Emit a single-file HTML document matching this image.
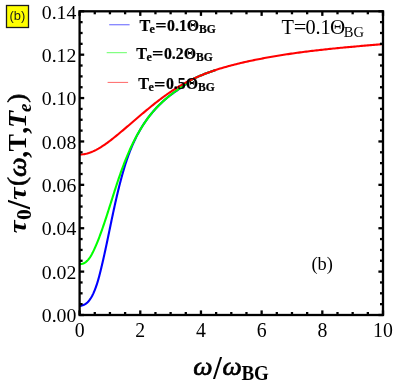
<!DOCTYPE html>
<html><head><meta charset="utf-8"><title>fig</title>
<style>
html,body{margin:0;padding:0;background:#fff;}
body{width:393px;height:383px;overflow:hidden;position:relative;font-family:"Liberation Serif",serif;}
svg{position:absolute;left:0;top:0;display:block;will-change:transform;}
svg text{font-family:"Liberation Serif",serif;fill:#000;}
</style></head><body>
<svg width="393" height="383" viewBox="0 0 393 383">
<rect x="0" y="0" width="393" height="383" fill="#fff"/>
<g font-size="19.8">
<text transform="translate(79.60,336.8) scale(1,1.03)" text-anchor="middle">0</text>
<text transform="translate(140.28,336.8) scale(1,1.03)" text-anchor="middle">2</text>
<text transform="translate(200.96,336.8) scale(1,1.03)" text-anchor="middle">4</text>
<text transform="translate(261.64,336.8) scale(1,1.03)" text-anchor="middle">6</text>
<text transform="translate(322.32,336.8) scale(1,1.03)" text-anchor="middle">8</text>
<text transform="translate(383.00,336.8) scale(1,1.03)" text-anchor="middle">10</text>
<text transform="translate(76.4,322.20) scale(1,1.0)" text-anchor="end">0.00</text>
<text transform="translate(76.4,278.81) scale(1,1.0)" text-anchor="end">0.02</text>
<text transform="translate(76.4,235.43) scale(1,1.0)" text-anchor="end">0.04</text>
<text transform="translate(76.4,192.04) scale(1,1.0)" text-anchor="end">0.06</text>
<text transform="translate(76.4,148.66) scale(1,1.0)" text-anchor="end">0.08</text>
<text transform="translate(76.4,105.27) scale(1,1.0)" text-anchor="end">0.10</text>
<text transform="translate(76.4,61.89) scale(1,1.0)" text-anchor="end">0.12</text>
<text transform="translate(76.4,18.50) scale(1,1.0)" text-anchor="end">0.14</text>
</g>
<!-- curves -->
<g fill="none" stroke-width="2.1" stroke-linecap="butt" stroke-linejoin="round">
<path d="M79.94,305.84 L81.34,305.67 L82.70,305.32 L84.00,304.80 L85.20,304.14 L86.33,303.36 L87.38,302.47 L88.36,301.47 L89.27,300.39 L90.12,299.23 L90.91,298.01 L91.65,296.74 L92.35,295.43 L93.01,294.09 L93.63,292.74 L94.21,291.38 L94.77,290.03 L95.30,288.67 L95.81,287.32 L96.29,285.96 L96.75,284.60 L97.19,283.24 L97.61,281.88 L98.02,280.52 L98.41,279.15 L98.79,277.79 L99.15,276.42 L99.51,275.05 L99.86,273.68 L100.20,272.31 L100.54,270.94 L100.88,269.57 L101.21,268.19 L101.54,266.82 L101.87,265.44 L102.19,264.06 L102.51,262.68 L102.83,261.29 L103.15,259.91 L103.46,258.52 L103.77,257.14 L104.08,255.75 L104.39,254.36 L104.69,252.97 L105.00,251.58 L105.30,250.19 L105.60,248.80 L105.90,247.40 L106.20,246.01 L106.49,244.61 L106.79,243.22 L107.08,241.82 L107.37,240.42 L107.67,239.02 L107.96,237.62 L108.25,236.22 L108.54,234.82 L108.83,233.42 L109.12,232.02 L109.41,230.62 L109.70,229.22 L109.99,227.82 L110.28,226.42 L110.57,225.01 L110.87,223.61 L111.16,222.21 L111.45,220.81 L111.74,219.40 L112.04,218.00 L112.33,216.60 L112.63,215.20 L112.93,213.79 L113.23,212.39 L113.53,210.99 L113.83,209.59 L114.14,208.19 L114.44,206.78 L114.75,205.38 L115.06,203.98 L115.37,202.58 L115.69,201.18 L116.01,199.79 L116.33,198.39 L116.65,196.99 L116.97,195.59 L117.30,194.20 L117.63,192.80 L117.97,191.41 L118.30,190.01 L118.65,188.62 L118.99,187.23 L119.34,185.84 L119.69,184.45 L120.04,183.06 L120.40,181.68 L120.77,180.29 L121.13,178.90 L121.51,177.52 L121.88,176.14 L122.26,174.76 L122.65,173.38 L123.04,172.00 L123.44,170.63 L123.84,169.26 L124.25,167.89 L124.67,166.52 L125.09,165.16 L125.52,163.80 L125.96,162.44 L126.41,161.08 L126.86,159.73 L127.32,158.38 L127.79,157.04 L128.27,155.70 L128.76,154.36 L129.26,153.03 L129.76,151.70 L130.28,150.37 L130.80,149.05 L131.34,147.74 L131.89,146.43 L132.45,145.12 L133.01,143.82 L133.59,142.53 L134.19,141.24 L134.79,139.96 L135.41,138.68 L136.03,137.41 L136.67,136.14 L137.33,134.88 L138.00,133.63 L138.68,132.38 L139.37,131.14 L140.08,129.91 L140.80,128.68 L141.54,127.46 L142.29,126.25 L143.06,125.04 L143.84,123.85 L144.64,122.66 L145.45,121.48 L146.27,120.31 L147.11,119.14 L147.96,117.99 L148.83,116.85 L149.71,115.71 L150.61,114.59 L151.52,113.47 L152.44,112.37 L153.37,111.28 L154.32,110.19 L155.28,109.12 L156.25,108.07 L157.23,107.02 L158.23,105.98 L159.24,104.96 L160.26,103.95 L161.29,102.96 L162.34,101.98 L163.39,101.01 L164.46,100.05 L165.54,99.12 L166.63,98.19 L167.73,97.28 L168.84,96.38 L169.96,95.50 L171.09,94.64 L172.23,93.79 L173.38,92.96 L174.53,92.13 L175.70,91.32 L176.87,90.52 L178.05,89.72 L179.23,88.93 L180.42,88.15 L181.61,87.36 L182.80,86.58 L184.00,85.49 L185.19,84.43 L186.39,83.40 L187.59,82.43 L188.79,81.51 L189.99,80.65 L191.20,79.84 L193.22,78.87 L194.59,78.23 L195.95,77.61 L197.33,77.00 L198.71,76.40 L200.10,75.81 L201.49,75.23 L202.88,74.66 L204.29,74.10 L205.69,73.56 L207.10,73.02 L208.52,72.49 L209.94,71.98 L211.37,71.47 L212.79,70.97 L214.23,70.49 L215.67,70.01" stroke="#0000ff"/>
<path d="M79.90,264.14 L81.27,264.04 L82.59,263.74 L83.83,263.26 L85.00,262.60 L86.10,261.80 L87.12,260.87 L88.08,259.85 L88.97,258.76 L89.79,257.62 L90.56,256.46 L91.28,255.27 L91.95,254.07 L92.59,252.86 L93.19,251.63 L93.78,250.39 L94.36,249.15 L94.92,247.91 L95.47,246.66 L96.01,245.40 L96.55,244.14 L97.07,242.88 L97.58,241.61 L98.09,240.33 L98.59,239.06 L99.08,237.78 L99.56,236.50 L100.04,235.21 L100.51,233.93 L100.98,232.64 L101.44,231.35 L101.90,230.06 L102.36,228.77 L102.81,227.47 L103.26,226.18 L103.70,224.88 L104.14,223.58 L104.58,222.28 L105.01,220.98 L105.45,219.68 L105.88,218.37 L106.30,217.07 L106.73,215.77 L107.15,214.46 L107.57,213.15 L107.99,211.85 L108.41,210.54 L108.83,209.23 L109.24,207.93 L109.66,206.62 L110.07,205.31 L110.49,204.00 L110.90,202.69 L111.31,201.38 L111.72,200.07 L112.14,198.76 L112.55,197.46 L112.97,196.15 L113.38,194.84 L113.80,193.53 L114.21,192.22 L114.63,190.92 L115.05,189.61 L115.47,188.31 L115.90,187.00 L116.32,185.70 L116.75,184.39 L117.18,183.09 L117.61,181.79 L118.05,180.49 L118.49,179.19 L118.93,177.89 L119.38,176.60 L119.82,175.30 L120.28,174.01 L120.73,172.72 L121.19,171.43 L121.66,170.14 L122.13,168.85 L122.60,167.56 L123.08,166.28 L123.56,165.00 L124.05,163.72 L124.54,162.44 L125.04,161.17 L125.55,159.90 L126.06,158.62 L126.58,157.36 L127.10,156.09 L127.63,154.83 L128.17,153.57 L128.71,152.31 L129.26,151.05 L129.82,149.80 L130.38,148.55 L130.96,147.30 L131.54,146.06 L132.12,144.82 L132.72,143.58 L133.32,142.35 L133.94,141.12 L134.56,139.90 L135.19,138.68 L135.83,137.46 L136.48,136.25 L137.13,135.05 L137.80,133.85 L138.47,132.65 L139.16,131.46 L139.85,130.28 L140.56,129.11 L141.27,127.94 L142.00,126.77 L142.73,125.62 L143.48,124.47 L144.24,123.33 L145.00,122.20 L145.78,121.07 L146.57,119.96 L147.37,118.85 L148.19,117.75 L149.01,116.66 L149.85,115.58 L150.69,114.51 L151.55,113.45 L152.42,112.40 L153.31,111.35 L154.21,110.32 L155.11,109.30 L156.04,108.29 L156.97,107.29 L157.92,106.31 L158.88,105.33 L159.85,104.36 L160.84,103.41 L161.84,102.46 L162.84,101.53 L163.86,100.61 L164.89,99.70 L165.93,98.80 L166.98,97.91 L168.04,97.02 L169.11,96.15 L170.18,95.29 L171.27,94.44 L172.36,93.60 L173.46,92.77 L174.56,91.95 L175.68,91.14 L176.80,90.33 L177.92,89.54 L179.05,88.76 L180.19,87.98 L181.33,87.22 L182.48,86.46 L183.63,85.71 L184.79,84.72 L185.95,83.76 L187.11,82.83 L188.28,81.95 L189.46,81.11 L190.64,80.30 L191.82,79.54 L193.22,78.87 L194.59,78.23 L195.95,77.61 L197.33,77.00 L198.71,76.40 L200.10,75.81 L201.49,75.23 L202.88,74.66 L204.29,74.10 L205.69,73.56 L207.10,73.02 L208.52,72.49 L209.94,71.98 L211.37,71.47 L212.79,70.97 L214.23,70.49 L215.67,70.01" stroke="#00ff00"/>
<path d="M79.92,154.51 L81.42,154.45 L82.91,154.31 L84.39,154.10 L85.86,153.81 L87.32,153.45 L88.76,153.03 L90.18,152.55 L91.60,152.01 L92.99,151.41 L94.38,150.77 L95.74,150.09 L97.09,149.37 L98.43,148.62 L99.74,147.84 L101.04,147.04 L102.33,146.22 L103.59,145.38 L104.84,144.53 L106.08,143.67 L107.30,142.79 L108.51,141.90 L109.71,141.00 L110.91,140.09 L112.09,139.17 L113.27,138.24 L114.44,137.30 L115.60,136.36 L116.76,135.41 L117.93,134.45 L119.08,133.49 L120.24,132.53 L121.40,131.56 L122.56,130.59 L123.71,129.61 L124.87,128.64 L126.02,127.65 L127.17,126.67 L128.33,125.69 L129.48,124.70 L130.64,123.71 L131.79,122.72 L132.94,121.73 L134.10,120.74 L135.26,119.75 L136.41,118.76 L137.57,117.77 L138.73,116.78 L139.89,115.79 L141.05,114.81 L142.22,113.82 L143.38,112.84 L144.55,111.86 L145.72,110.88 L146.89,109.91 L148.07,108.94 L149.25,107.97 L150.43,107.01 L151.61,106.05 L152.80,105.09 L153.98,104.14 L155.18,103.20 L156.37,102.26 L157.57,101.33 L158.78,100.40 L159.98,99.48 L161.19,98.57 L162.41,97.66 L163.63,96.76 L164.85,95.87 L166.08,94.99 L167.32,94.11 L168.55,93.25 L169.80,92.39 L171.05,91.54 L172.30,90.71 L173.56,89.88 L174.83,89.06 L176.10,88.26 L177.38,87.46 L178.66,86.68 L179.95,85.90 L181.25,85.14 L182.55,84.40 L183.86,83.66 L185.18,82.94 L186.50,82.23 L187.83,81.53 L189.17,80.85 L190.52,80.17 L191.87,79.51 L193.22,78.87 L194.59,78.23 L195.95,77.61 L197.33,77.00 L198.71,76.40 L200.10,75.81 L201.49,75.23 L202.88,74.66 L204.29,74.10 L205.69,73.56 L207.10,73.02 L208.52,72.49 L209.94,71.98 L211.37,71.47 L212.79,70.97 L214.23,70.49 L215.67,70.01 L217.11,69.54 L218.55,69.08 L220.00,68.62 L221.45,68.18 L222.91,67.74 L224.36,67.31 L225.82,66.89 L227.29,66.48 L228.75,66.08 L230.22,65.68 L231.69,65.29 L233.17,64.90 L234.64,64.53 L236.12,64.15 L237.60,63.79 L239.08,63.43 L240.56,63.08 L242.05,62.73 L243.53,62.39 L245.02,62.05 L246.50,61.72 L247.99,61.40 L249.48,61.07 L250.97,60.76 L252.45,60.44 L253.94,60.14 L255.43,59.83 L256.92,59.53 L258.41,59.24 L259.90,58.94 L261.39,58.66 L262.88,58.37 L264.37,58.09 L265.86,57.82 L267.35,57.54 L268.84,57.27 L270.33,57.01 L271.82,56.75 L273.31,56.49 L274.80,56.24 L276.30,55.99 L277.79,55.74 L279.28,55.49 L280.77,55.25 L282.27,55.02 L283.76,54.78 L285.25,54.55 L286.74,54.32 L288.24,54.10 L289.73,53.88 L291.23,53.66 L292.72,53.44 L294.22,53.23 L295.71,53.02 L297.21,52.82 L298.70,52.61 L300.20,52.41 L301.69,52.21 L303.19,52.02 L304.69,51.82 L306.18,51.63 L307.68,51.44 L309.18,51.26 L310.68,51.07 L312.17,50.89 L313.67,50.71 L315.17,50.54 L316.67,50.36 L318.17,50.19 L319.67,50.02 L321.17,49.85 L322.67,49.69 L324.17,49.52 L325.67,49.36 L327.17,49.20 L328.68,49.04 L330.18,48.88 L331.68,48.73 L333.18,48.58 L334.69,48.42 L336.19,48.27 L337.69,48.13 L339.20,47.98 L340.70,47.83 L342.21,47.69 L343.71,47.55 L345.22,47.41 L346.73,47.27 L348.23,47.13 L349.74,46.99 L351.25,46.85 L352.76,46.72 L354.26,46.58 L355.77,46.45 L357.28,46.31 L358.79,46.18 L360.30,46.05 L361.81,45.92 L363.32,45.79 L364.83,45.66 L366.34,45.53 L367.86,45.41 L369.37,45.28 L370.88,45.15 L372.39,45.03 L373.91,44.90 L375.42,44.77 L376.94,44.65 L378.45,44.52 L379.97,44.40 L381.48,44.27 L383.00,44.15" stroke="#ff0000"/>
</g>
<!-- legend -->
<g font-size="16.2" font-weight="bold" stroke="#000" stroke-width="0.2">
<g transform="translate(139.4,30.6) scale(1,1.04)"><text x="0" y="0">T<tspan font-size="12" dy="2.3" dx="-0.6">e</tspan></text><text transform="translate(15.8,0.7) scale(1.24,1)">=</text><text transform="translate(27.6,0) scale(0.98,1)">0.1Θ</text><text x="59.7" y="2.3" font-size="11.6">BG</text></g>
<g transform="translate(136.3,58.5) scale(1,1.04)"><text x="0" y="0">T<tspan font-size="12" dy="2.3" dx="-0.6">e</tspan></text><text transform="translate(15.8,0.7) scale(1.24,1)">=</text><text transform="translate(27.6,0) scale(0.98,1)">0.2Θ</text><text x="59.7" y="2.3" font-size="11.6">BG</text></g>
<g transform="translate(138.3,88.8) scale(1,1.04)"><text x="0" y="0">T<tspan font-size="12" dy="2.3" dx="-0.6">e</tspan></text><text transform="translate(15.8,0.7) scale(1.24,1)">=</text><text transform="translate(27.6,0) scale(0.98,1)">0.5Θ</text><text x="59.7" y="2.3" font-size="11.6">BG</text></g>
</g>
<g stroke-width="1" fill="none">
<line x1="109.2" y1="24.7" x2="129.6" y2="24.7" stroke="#8484ff" stroke-width="1.3"/>
<line x1="106.7" y1="52.7" x2="126.9" y2="52.7" stroke="#6f6"/>
<line x1="107.6" y1="82.4" x2="128.1" y2="82.4" stroke="#f66"/>
</g>
<g font-size="20.3">
<text x="281.4" y="34">T</text>
<text transform="translate(293.7,34) scale(1.1,1)">=</text>
<text x="305.4" y="34">0.1</text>
<text transform="translate(330.0,34) scale(1.04,1)">Θ</text>
<text x="343.8" y="37.4" font-size="14.5">BG</text>
</g>
<text x="311.4" y="269.6" font-size="18.4">(b)</text>
<!-- axis labels -->
<g transform="translate(0,375.0)"><text transform="translate(193.37,0.00) scale(1.05,1)" font-size="26" font-weight="normal" font-style="italic" stroke="#000" stroke-width="0.7" stroke-linejoin="round">ω</text><text transform="translate(213.20,3.90) scale(0.91,1)" font-size="33.8" font-weight="bold" font-style="normal">/</text><text transform="translate(222.47,0.00) scale(1.05,1)" font-size="26" font-weight="normal" font-style="italic" stroke="#000" stroke-width="0.7" stroke-linejoin="round">ω</text><text transform="translate(241.44,5.10) scale(1.0,1.08)" font-size="19" font-weight="bold" font-style="normal">BG</text></g>
<g transform="translate(25.7,232.6) rotate(-90)"><text transform="translate(-0.57,0.00) scale(1.1,1)" font-size="26" font-weight="bold" font-style="italic">τ</text><text transform="translate(12.71,5.50) scale(1.07,1)" font-size="20" font-weight="bold" font-style="normal">0</text><text transform="translate(23.30,4.30) scale(1.0,1)" font-size="33.2" font-weight="bold" font-style="normal">/</text><text transform="translate(32.85,0.00) scale(1.06,1)" font-size="26" font-weight="bold" font-style="italic">τ</text><text transform="translate(46.70,-0.50) scale(1.12,1)" font-size="24.3" font-weight="normal" font-style="normal" stroke="#000" stroke-width="0.5" stroke-linejoin="round">(</text><text transform="translate(55.65,0.00) scale(1.07,1)" font-size="26" font-weight="normal" font-style="italic" stroke="#000" stroke-width="0.7" stroke-linejoin="round">ω</text><text transform="translate(74.90,1.00) scale(1.05,1.1)" font-size="26" font-weight="bold" font-style="normal">,</text><text transform="translate(81.00,0.00) scale(1,1)" font-size="26" font-weight="bold" font-style="normal">T</text><text transform="translate(98.90,1.00) scale(1.05,1.1)" font-size="26" font-weight="bold" font-style="normal">,</text><text transform="translate(104.65,0.00) scale(1.07,1)" font-size="26" font-weight="bold" font-style="italic">T</text><text transform="translate(120.70,5.10) scale(1,1)" font-size="19" font-weight="bold" font-style="italic">e</text><text transform="translate(129.80,-0.50) scale(1.12,1)" font-size="24.3" font-weight="normal" font-style="normal" stroke="#000" stroke-width="0.5" stroke-linejoin="round">)</text></g>
<!-- frame -->
<g stroke="#000" stroke-width="2.3" fill="none" stroke-linecap="butt">
<rect x="79.6" y="11.3" width="303.40" height="303.70"/>
<line x1="79.60" y1="315.00" x2="79.60" y2="310.40"/>
<line x1="79.60" y1="11.30" x2="79.60" y2="15.90"/>
<line x1="94.77" y1="315.00" x2="94.77" y2="312.00"/>
<line x1="94.77" y1="11.30" x2="94.77" y2="14.30"/>
<line x1="109.94" y1="315.00" x2="109.94" y2="312.00"/>
<line x1="109.94" y1="11.30" x2="109.94" y2="14.30"/>
<line x1="125.11" y1="315.00" x2="125.11" y2="312.00"/>
<line x1="125.11" y1="11.30" x2="125.11" y2="14.30"/>
<line x1="140.28" y1="315.00" x2="140.28" y2="310.40"/>
<line x1="140.28" y1="11.30" x2="140.28" y2="15.90"/>
<line x1="155.45" y1="315.00" x2="155.45" y2="312.00"/>
<line x1="155.45" y1="11.30" x2="155.45" y2="14.30"/>
<line x1="170.62" y1="315.00" x2="170.62" y2="312.00"/>
<line x1="170.62" y1="11.30" x2="170.62" y2="14.30"/>
<line x1="185.79" y1="315.00" x2="185.79" y2="312.00"/>
<line x1="185.79" y1="11.30" x2="185.79" y2="14.30"/>
<line x1="200.96" y1="315.00" x2="200.96" y2="310.40"/>
<line x1="200.96" y1="11.30" x2="200.96" y2="15.90"/>
<line x1="216.13" y1="315.00" x2="216.13" y2="312.00"/>
<line x1="216.13" y1="11.30" x2="216.13" y2="14.30"/>
<line x1="231.30" y1="315.00" x2="231.30" y2="312.00"/>
<line x1="231.30" y1="11.30" x2="231.30" y2="14.30"/>
<line x1="246.47" y1="315.00" x2="246.47" y2="312.00"/>
<line x1="246.47" y1="11.30" x2="246.47" y2="14.30"/>
<line x1="261.64" y1="315.00" x2="261.64" y2="310.40"/>
<line x1="261.64" y1="11.30" x2="261.64" y2="15.90"/>
<line x1="276.81" y1="315.00" x2="276.81" y2="312.00"/>
<line x1="276.81" y1="11.30" x2="276.81" y2="14.30"/>
<line x1="291.98" y1="315.00" x2="291.98" y2="312.00"/>
<line x1="291.98" y1="11.30" x2="291.98" y2="14.30"/>
<line x1="307.15" y1="315.00" x2="307.15" y2="312.00"/>
<line x1="307.15" y1="11.30" x2="307.15" y2="14.30"/>
<line x1="322.32" y1="315.00" x2="322.32" y2="310.40"/>
<line x1="322.32" y1="11.30" x2="322.32" y2="15.90"/>
<line x1="337.49" y1="315.00" x2="337.49" y2="312.00"/>
<line x1="337.49" y1="11.30" x2="337.49" y2="14.30"/>
<line x1="352.66" y1="315.00" x2="352.66" y2="312.00"/>
<line x1="352.66" y1="11.30" x2="352.66" y2="14.30"/>
<line x1="367.83" y1="315.00" x2="367.83" y2="312.00"/>
<line x1="367.83" y1="11.30" x2="367.83" y2="14.30"/>
<line x1="383.00" y1="315.00" x2="383.00" y2="310.40"/>
<line x1="383.00" y1="11.30" x2="383.00" y2="15.90"/>
<line x1="79.60" y1="315.00" x2="84.20" y2="315.00"/>
<line x1="383.00" y1="315.00" x2="378.40" y2="315.00"/>
<line x1="79.60" y1="304.15" x2="82.60" y2="304.15"/>
<line x1="383.00" y1="304.15" x2="380.00" y2="304.15"/>
<line x1="79.60" y1="293.31" x2="82.60" y2="293.31"/>
<line x1="383.00" y1="293.31" x2="380.00" y2="293.31"/>
<line x1="79.60" y1="282.46" x2="82.60" y2="282.46"/>
<line x1="383.00" y1="282.46" x2="380.00" y2="282.46"/>
<line x1="79.60" y1="271.61" x2="84.20" y2="271.61"/>
<line x1="383.00" y1="271.61" x2="378.40" y2="271.61"/>
<line x1="79.60" y1="260.77" x2="82.60" y2="260.77"/>
<line x1="383.00" y1="260.77" x2="380.00" y2="260.77"/>
<line x1="79.60" y1="249.92" x2="82.60" y2="249.92"/>
<line x1="383.00" y1="249.92" x2="380.00" y2="249.92"/>
<line x1="79.60" y1="239.07" x2="82.60" y2="239.07"/>
<line x1="383.00" y1="239.07" x2="380.00" y2="239.07"/>
<line x1="79.60" y1="228.23" x2="84.20" y2="228.23"/>
<line x1="383.00" y1="228.23" x2="378.40" y2="228.23"/>
<line x1="79.60" y1="217.38" x2="82.60" y2="217.38"/>
<line x1="383.00" y1="217.38" x2="380.00" y2="217.38"/>
<line x1="79.60" y1="206.54" x2="82.60" y2="206.54"/>
<line x1="383.00" y1="206.54" x2="380.00" y2="206.54"/>
<line x1="79.60" y1="195.69" x2="82.60" y2="195.69"/>
<line x1="383.00" y1="195.69" x2="380.00" y2="195.69"/>
<line x1="79.60" y1="184.84" x2="84.20" y2="184.84"/>
<line x1="383.00" y1="184.84" x2="378.40" y2="184.84"/>
<line x1="79.60" y1="174.00" x2="82.60" y2="174.00"/>
<line x1="383.00" y1="174.00" x2="380.00" y2="174.00"/>
<line x1="79.60" y1="163.15" x2="82.60" y2="163.15"/>
<line x1="383.00" y1="163.15" x2="380.00" y2="163.15"/>
<line x1="79.60" y1="152.30" x2="82.60" y2="152.30"/>
<line x1="383.00" y1="152.30" x2="380.00" y2="152.30"/>
<line x1="79.60" y1="141.46" x2="84.20" y2="141.46"/>
<line x1="383.00" y1="141.46" x2="378.40" y2="141.46"/>
<line x1="79.60" y1="130.61" x2="82.60" y2="130.61"/>
<line x1="383.00" y1="130.61" x2="380.00" y2="130.61"/>
<line x1="79.60" y1="119.76" x2="82.60" y2="119.76"/>
<line x1="383.00" y1="119.76" x2="380.00" y2="119.76"/>
<line x1="79.60" y1="108.92" x2="82.60" y2="108.92"/>
<line x1="383.00" y1="108.92" x2="380.00" y2="108.92"/>
<line x1="79.60" y1="98.07" x2="84.20" y2="98.07"/>
<line x1="383.00" y1="98.07" x2="378.40" y2="98.07"/>
<line x1="79.60" y1="87.23" x2="82.60" y2="87.23"/>
<line x1="383.00" y1="87.23" x2="380.00" y2="87.23"/>
<line x1="79.60" y1="76.38" x2="82.60" y2="76.38"/>
<line x1="383.00" y1="76.38" x2="380.00" y2="76.38"/>
<line x1="79.60" y1="65.53" x2="82.60" y2="65.53"/>
<line x1="383.00" y1="65.53" x2="380.00" y2="65.53"/>
<line x1="79.60" y1="54.69" x2="84.20" y2="54.69"/>
<line x1="383.00" y1="54.69" x2="378.40" y2="54.69"/>
<line x1="79.60" y1="43.84" x2="82.60" y2="43.84"/>
<line x1="383.00" y1="43.84" x2="380.00" y2="43.84"/>
<line x1="79.60" y1="32.99" x2="82.60" y2="32.99"/>
<line x1="383.00" y1="32.99" x2="380.00" y2="32.99"/>
<line x1="79.60" y1="22.15" x2="82.60" y2="22.15"/>
<line x1="383.00" y1="22.15" x2="380.00" y2="22.15"/>
<line x1="79.60" y1="11.30" x2="84.20" y2="11.30"/>
<line x1="383.00" y1="11.30" x2="378.40" y2="11.30"/>
</g>
<rect x="6.5" y="5.5" width="22" height="22" fill="#ffff00" stroke="#1c1c1c" stroke-width="1.3"/>
<text x="17.4" y="19.6" text-anchor="middle" font-size="12.9" style="font-family:'Liberation Sans',sans-serif;fill:#1c1c1c">(b)</text>
</svg>
</body></html>
